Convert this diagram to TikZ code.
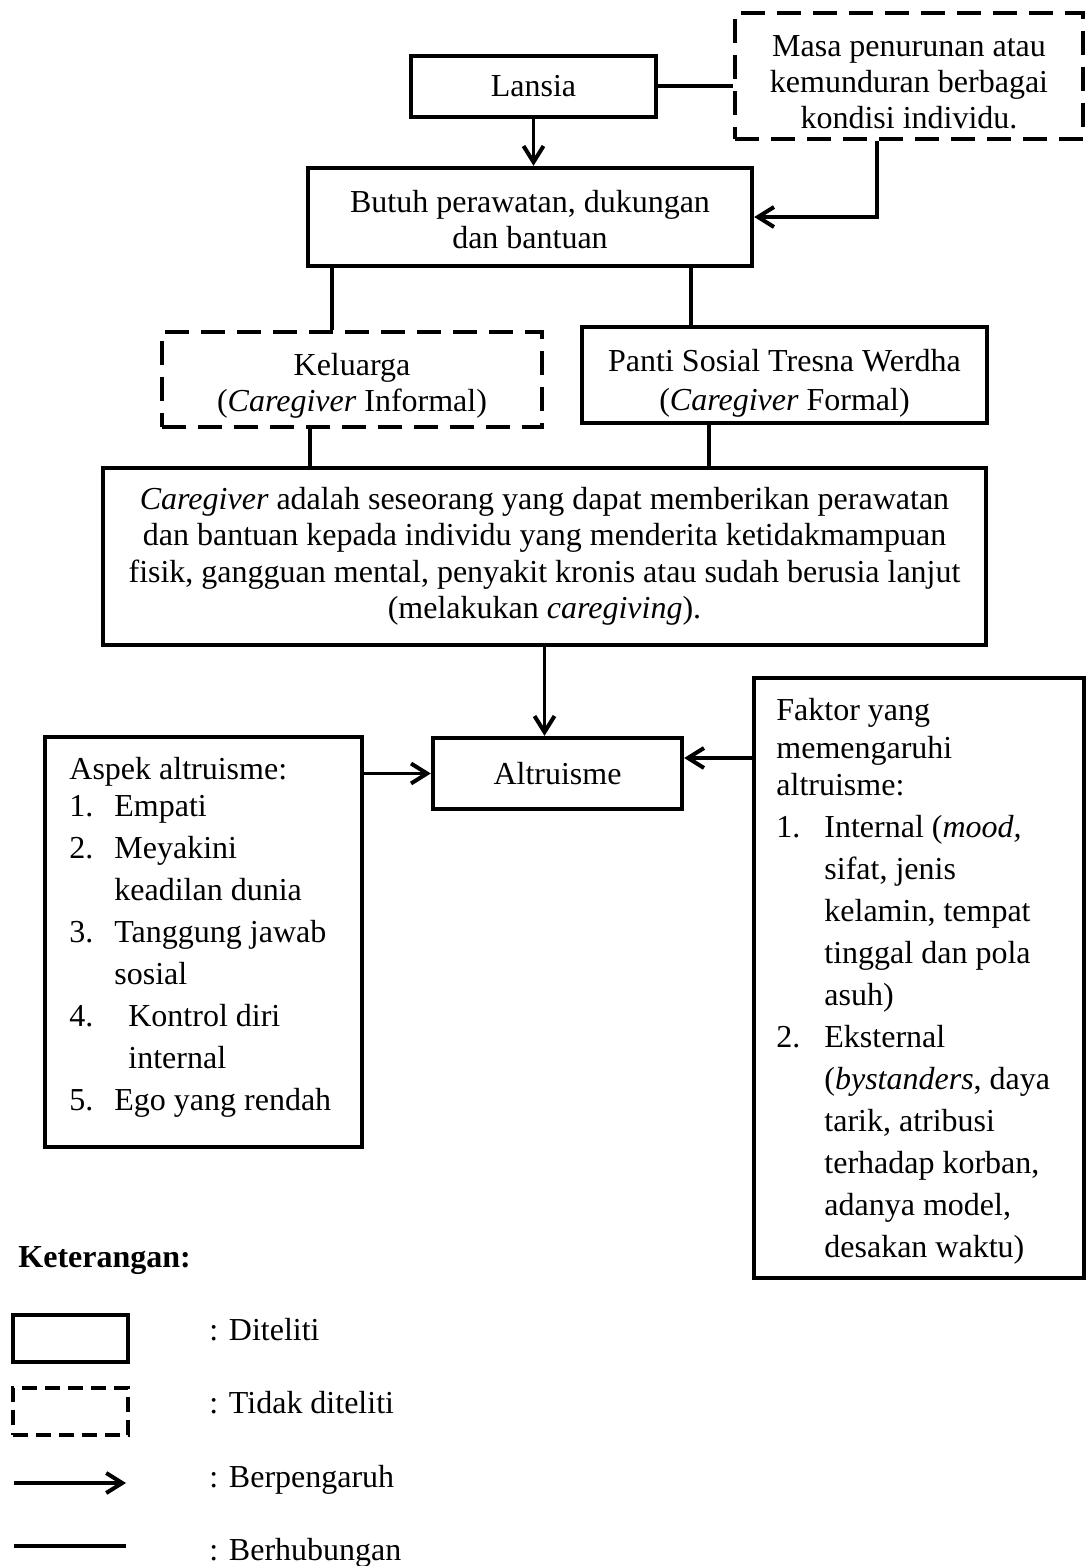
\documentclass[tikz,border=0pt]{standalone}
\usepackage{fontspec}
\setmainfont{Liberation Serif}
\usetikzlibrary{arrows.meta,calc}
% fixed-width slot for list numbers
\newcommand\lnum[2][22.5pt]{\makebox[#1][l]{#2}}
\begin{document}
\begin{tikzpicture}[x=0.5pt,y=-0.5pt,
  every node/.style={font=\fontsize{16pt}{18pt}\selectfont, inner sep=0pt},
  box/.style={draw, line width=2.2pt, align=center},
  dbox/.style={box, dash pattern=on 12pt off 6pt},
  boxtext/.style={align=center},
  link/.style={line width=1.6pt},
  arr/.style={link, -{Straight Barb[length=8pt,width=10pt,line width=2pt]}},
  listtext/.style={align=left, font=\fontsize{16pt}{21pt}\selectfont},
]
\useasboundingbox[fill=white] (0,0) rectangle (1086,1566);

% upper part
\node[box, minimum width=122.5pt, minimum height=30.5pt] (lansia) at (533.5,86.5) {Lansia};
\node[dbox, minimum width=174pt, minimum height=63pt] (masa) at (909,76) {};
\node[boxtext] (masatext) at ([yshift=-3pt]masa.center)
  {Masa penurunan atau\\kemunduran berbagai\\kondisi individu.};
\node[box, minimum width=222pt, minimum height=49pt] (butuh) at (530,217) {};
\node[boxtext] (butuhtext) at ([yshift=-1.5pt]butuh.center)
  {Butuh perawatan, dukungan\\dan bantuan};
\node[dbox, minimum width=190pt, minimum height=47.5pt] (keluarga) at (352,379.5) {};
\node[boxtext] (keluargatext) at ([yshift=-3pt]keluarga.center)
  {Keluarga\\(\textit{Caregiver} Informal)};
\node[box, minimum width=202.5pt, minimum height=48pt] (panti) at (784.5,375) {};
\node[boxtext, font=\fontsize{16pt}{19.5pt}\selectfont] (pantitext) at ([yshift=-4pt]panti.center)
  {Panti Sosial Tresna Werdha\\(\textit{Caregiver} Formal)};
\node[box, minimum width=441.5pt, minimum height=88.5pt,
      font=\fontsize{16pt}{18.25pt}\selectfont] (care) at (544.5,556.5)
  {\textit{Caregiver} adalah seseorang yang dapat memberikan perawatan\\
   dan bantuan kepada individu yang menderita ketidakmampuan\\
   fisik, gangguan mental, penyakit kronis atau sudah berusia lanjut\\
   (melakukan \textit{caregiving}).};

% middle part
\node[box, minimum width=124.5pt, minimum height=35.5pt] (altr) at (557.5,773.5) {Altruisme};
\node[box, minimum width=158.5pt, minimum height=205pt] (aspek) at (203.5,942) {};
\node[box, minimum width=165pt, minimum height=300pt] (faktor) at (919,978) {};

\node[listtext, anchor=north west] (aspektext) at (69,757) {%
  Aspek altruisme:\\[-2.5pt]
  \lnum{1.}Empati\\
  \lnum{2.}Meyakini\\
  \lnum{}keadilan dunia\\
  \lnum{3.}Tanggung jawab\\
  \lnum{}sosial\\
  \lnum[29.5pt]{4.}Kontrol diri\\
  \lnum[29.5pt]{}internal\\
  \lnum{5.}Ego yang rendah};

\node[listtext, anchor=north west] (faktortext) at (776,698) {%
  Faktor yang\\[-2.25pt]
  memengaruhi\\[-2.25pt]
  altruisme:\\
  \lnum[24pt]{1.}Internal (\textit{mood,}\\
  \lnum[24pt]{}sifat, jenis\\
  \lnum[24pt]{}kelamin, tempat\\
  \lnum[24pt]{}tinggal dan pola\\
  \lnum[24pt]{}asuh)\\
  \lnum[24pt]{2.}Eksternal\\
  \lnum[24pt]{}(\textit{bystanders}, daya\\
  \lnum[24pt]{}tarik, atribusi\\
  \lnum[24pt]{}terhadap korban,\\
  \lnum[24pt]{}adanya model,\\
  \lnum[24pt]{}desakan waktu)};

% connectors
\draw[arr] (lansia.south) -- (lansia.south |- butuh.north);
\draw[link, line width=2pt] (lansia.east) -- (lansia.east -| masa.west);
\coordinate (m1) at ([xshift=-16pt]masa.south);
\draw[arr] (m1) |- (butuh.east);
\coordinate (b1) at ([xshift=-99pt]butuh.south);
\coordinate (b2) at ([xshift=80.5pt]butuh.south);
\draw[link] (b1) -- (b1 |- keluarga.north);
\draw[link] (b2) -- (b2 |- panti.north);
\coordinate (k1) at ([xshift=-21pt]keluarga.south);
\coordinate (p1) at ([xshift=-37.75pt]panti.south);
\draw[link] (k1) -- (k1 |- care.north);
\draw[link] (p1) -- (p1 |- care.north);
\draw[arr] (care.south) -- (care.south |- altr.north);
\draw[arr] (altr.west -| aspek.east) -- (altr.west);
\coordinate (fa) at ([yshift=7.75pt]altr.east);
\draw[arr] (fa -| faktor.west) -- (fa);

% legend
\node[anchor=base west, font=\fontsize{16pt}{18pt}\selectfont\bfseries] (ket) at (18,1267) {Keterangan:};
\node[box, minimum width=57.5pt, minimum height=23.5pt] (lg1) at (70.5,1338.5) {};
\node[box, dash pattern=on 7.5pt off 4pt, minimum width=57.5pt, minimum height=23.5pt] (lg2) at (70.5,1411.5) {};
\coordinate (lg3a) at (14,1483);
\coordinate (lg3b) at (126,1483);
\draw[arr] (lg3a) -- (lg3b);
\coordinate (lg4a) at (14,1546);
\coordinate (lg4b) at (126,1546);
\draw[link] (lg4a) -- (lg4b);
\node[anchor=base west] (t1) at (209,1340) {: Diteliti};
\node[anchor=base west] (t2) at (209,1413) {: Tidak diteliti};
\node[anchor=base west] (t3) at (209,1487) {: Berpengaruh};
\node[anchor=base west] (t4) at (209,1560) {: Berhubungan};
\end{tikzpicture}
\end{document}
